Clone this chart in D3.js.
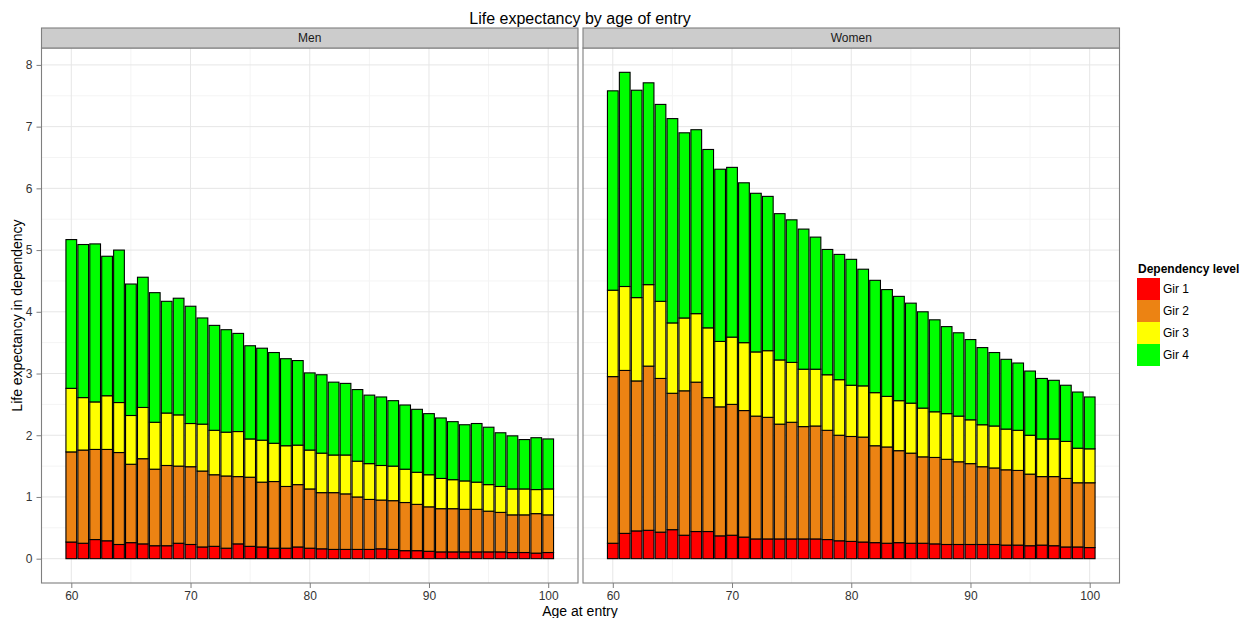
<!DOCTYPE html>
<html>
<head>
<meta charset="utf-8">
<script src="https://cdn.jsdelivr.net/npm/d3@7/dist/d3.min.js"></script>
<style>
body { margin: 0; background: #fff; }
text { font-family: "Liberation Sans", Arial, sans-serif; }
</style>
</head>
<body>
<div id="chart"></div>
<script>
// ages at entry (x categories)
const ages = [60, 61, 62, 63, 64, 65, 66, 67, 68, 69, 70, 71, 72, 73, 74, 75, 76, 77, 78, 79, 80,
    81, 82, 83, 84, 85, 86, 87, 88, 89, 90, 91, 92, 93, 94, 95, 96, 97, 98, 99, 100];

const levels = ["Gir 1", "Gir 2", "Gir 3", "Gir 4"];
const levelColors = ["#ff0000", "#ec8313", "#ffff00", "#00ff00"];
const panelNames = ["Men", "Women"];

// years spent in each dependency level, men
const menGir1 = [0.27, 0.25, 0.31, 0.29, 0.23, 0.26, 0.24, 0.21, 0.21, 0.25, 0.23, 0.19, 0.20, 0.17, 0.24, 0.20, 0.19, 0.17, 0.17, 0.19, 0.17,
    0.16, 0.15, 0.15, 0.15, 0.15, 0.16, 0.15, 0.13, 0.13, 0.12, 0.11, 0.11, 0.11, 0.11, 0.11, 0.11, 0.10, 0.10, 0.09, 0.10];
const menGir2 = [1.46, 1.51, 1.46, 1.48, 1.49, 1.27, 1.38, 1.24, 1.30, 1.25, 1.26, 1.23, 1.16, 1.17, 1.09, 1.12, 1.05, 1.08, 1.00, 1.01, 0.96,
    0.91, 0.92, 0.90, 0.85, 0.81, 0.79, 0.79, 0.78, 0.75, 0.72, 0.70, 0.70, 0.69, 0.69, 0.66, 0.64, 0.61, 0.61, 0.64, 0.61];
const menGir3 = [1.03, 0.85, 0.77, 0.87, 0.81, 0.79, 0.83, 0.76, 0.85, 0.83, 0.70, 0.76, 0.72, 0.71, 0.73, 0.62, 0.68, 0.62, 0.66, 0.64, 0.63,
    0.64, 0.61, 0.63, 0.58, 0.58, 0.56, 0.56, 0.54, 0.52, 0.52, 0.49, 0.47, 0.46, 0.44, 0.43, 0.42, 0.42, 0.42, 0.39, 0.42];
const menGir4 = [2.41, 2.48, 2.56, 2.26, 2.47, 2.13, 2.11, 2.10, 1.81, 1.89, 1.90, 1.72, 1.70, 1.66, 1.59, 1.51, 1.49, 1.47, 1.41, 1.37, 1.25,
    1.27, 1.18, 1.16, 1.16, 1.11, 1.11, 1.06, 1.04, 1.02, 0.99, 0.98, 0.94, 0.91, 0.95, 0.93, 0.87, 0.86, 0.80, 0.84, 0.81];

// women
const womenGir1 = [0.25, 0.41, 0.45, 0.46, 0.43, 0.47, 0.38, 0.44, 0.44, 0.37, 0.38, 0.35, 0.32, 0.32, 0.32, 0.32, 0.32, 0.32, 0.31, 0.29, 0.28,
    0.27, 0.26, 0.25, 0.26, 0.25, 0.25, 0.24, 0.23, 0.23, 0.23, 0.23, 0.23, 0.22, 0.22, 0.21, 0.22, 0.21, 0.19, 0.19, 0.18];
const womenGir2 = [2.70, 2.64, 2.43, 2.66, 2.49, 2.21, 2.34, 2.42, 2.17, 2.09, 2.12, 2.05, 1.99, 1.97, 1.86, 1.89, 1.82, 1.83, 1.77, 1.71, 1.70,
    1.70, 1.57, 1.56, 1.49, 1.46, 1.40, 1.40, 1.38, 1.34, 1.31, 1.26, 1.24, 1.22, 1.21, 1.16, 1.11, 1.12, 1.11, 1.04, 1.05];
const womenGir3 = [1.40, 1.36, 1.35, 1.32, 1.25, 1.14, 1.18, 1.11, 1.13, 1.06, 1.09, 1.10, 1.04, 1.08, 1.04, 0.97, 0.93, 0.92, 0.90, 0.90, 0.83,
    0.83, 0.86, 0.82, 0.81, 0.81, 0.79, 0.74, 0.74, 0.74, 0.71, 0.68, 0.68, 0.66, 0.65, 0.63, 0.61, 0.61, 0.60, 0.56, 0.55];
const womenGir4 = [3.23, 3.47, 3.36, 3.27, 3.19, 3.31, 3.00, 2.98, 2.89, 2.79, 2.75, 2.59, 2.57, 2.50, 2.37, 2.31, 2.27, 2.14, 2.03, 2.03, 2.04,
    1.89, 1.82, 1.73, 1.69, 1.62, 1.56, 1.49, 1.41, 1.35, 1.30, 1.25, 1.19, 1.13, 1.09, 1.04, 0.98, 0.95, 0.91, 0.91, 0.84];

const xTicks = [60, 70, 80, 90, 100];
const xMinor = [65, 75, 85, 95];
const yTicks = [0, 1, 2, 3, 4, 5, 6, 7, 8];
const yMinor = [0.5, 1.5, 2.5, 3.5, 4.5, 5.5, 6.5, 7.5];

let width = 1247, height = 618;
let plotTop = 48, plotBottom = 583;
let panelX = [[41.5, 578], [583, 1119.5]];

let svg = d3.select("#chart")
    .append("svg")
    .attr("width", width)
    .attr("height", height);

//build rows for each panel
function makeRows(series) {
    return ages.map((a, i) => {
        let row = { age: a };
        levels.forEach((l, j) => { row[l] = series[j][i]; });
        return row;
    });
}
let panelData = [
    makeRows([menGir1, menGir2, menGir3, menGir4]),
    makeRows([womenGir1, womenGir2, womenGir3, womenGir4])
];
let stack = d3.stack().keys(levels);
let stacked = panelData.map(rows => stack(rows));

let yMax = d3.max(stacked, s => d3.max(s[s.length - 1], d => d[1]));
let y = d3.scaleLinear().domain([-0.05 * yMax, 1.05 * yMax]).range([plotBottom, plotTop]);
let color = d3.scaleOrdinal().domain(levels).range(levelColors);

// title
svg.append("text")
    .attr("x", 580).attr("y", 24)
    .attr("text-anchor", "middle")
    .style("font-size", "16px")
    .text("Life expectancy by age of entry");

panelNames.forEach((name, p) => {
    let [x0, x1] = panelX[p];
    let x = d3.scaleLinear().domain([57.5, 102.5]).range([x0, x1]);
    let g = svg.append("g");

    // grid
    g.selectAll(".minor-y").data(yMinor).enter().append("line")
        .attr("x1", x0).attr("x2", x1).attr("y1", d => y(d)).attr("y2", d => y(d))
        .attr("stroke", "#f4f4f4").attr("stroke-width", 1);
    g.selectAll(".minor-x").data(xMinor).enter().append("line")
        .attr("x1", d => x(d)).attr("x2", d => x(d)).attr("y1", plotTop).attr("y2", plotBottom)
        .attr("stroke", "#f4f4f4").attr("stroke-width", 1);
    g.selectAll(".major-y").data(yTicks).enter().append("line")
        .attr("x1", x0).attr("x2", x1).attr("y1", d => y(d)).attr("y2", d => y(d))
        .attr("stroke", "#e6e6e6").attr("stroke-width", 1);
    g.selectAll(".major-x").data(xTicks).enter().append("line")
        .attr("x1", d => x(d)).attr("x2", d => x(d)).attr("y1", plotTop).attr("y2", plotBottom)
        .attr("stroke", "#e6e6e6").attr("stroke-width", 1);

    // bars
    g.selectAll(".layer")
        .data(stacked[p])
        .enter()
        .append("g")
        .attr("fill", d => color(d.key))
        .selectAll("rect")
        .data(d => d)
        .enter()
        .append("rect")
        .attr("x", d => x(d.data.age - 0.45))
        .attr("width", d => x(d.data.age + 0.45) - x(d.data.age - 0.45))
        .attr("y", d => y(d[1]))
        .attr("height", d => y(d[0]) - y(d[1]))
        .attr("stroke", "#000")
        .attr("stroke-width", 1.1);

    // panel border
    g.append("rect").attr("x", x0).attr("y", plotTop).attr("width", x1 - x0).attr("height", plotBottom - plotTop)
        .attr("fill", "none").attr("stroke", "#7f7f7f").attr("stroke-width", 1.1);

    // strip
    g.append("rect").attr("x", x0).attr("y", 28).attr("width", x1 - x0).attr("height", plotTop - 28)
        .attr("fill", "#cccccc").attr("stroke", "#7f7f7f").attr("stroke-width", 1.1);
    g.append("text")
        .attr("x", (x0 + x1) / 2).attr("y", 42)
        .attr("text-anchor", "middle")
        .style("font-size", "12px")
        .attr("fill", "#1a1a1a")
        .text(name);

    // x axis
    let xa = g.append("g")
        .attr("transform", "translate(0," + plotBottom + ")")
        .call(d3.axisBottom(x).tickValues(xTicks).tickSize(5).tickPadding(3).tickFormat(d3.format("d")));
    xa.select(".domain").remove();
    xa.selectAll("line").attr("stroke", "#7f7f7f");
    xa.selectAll("text").style("font-size", "12px").attr("fill", "#333").style("font-family", "Liberation Sans, Arial, sans-serif");

    if (p == 0) {
        let ya = g.append("g")
            .attr("transform", "translate(" + x0 + ",0)")
            .call(d3.axisLeft(y).tickValues(yTicks).tickSize(5).tickPadding(4));
        ya.select(".domain").remove();
        ya.selectAll("line").attr("stroke", "#7f7f7f");
        ya.selectAll("text").style("font-size", "12px").attr("fill", "#333").style("font-family", "Liberation Sans, Arial, sans-serif");
    }
});

// axis titles
svg.append("text")
    .attr("x", 580).attr("y", 616)
    .attr("text-anchor", "middle")
    .style("font-size", "14px")
    .text("Age at entry");

svg.append("text")
    .attr("transform", "translate(22," + ((plotTop + plotBottom) / 2) + ") rotate(-90)")
    .attr("text-anchor", "middle")
    .style("font-size", "14px")
    .text("Life expectancy in dependency");

// legend
let legend = svg.append("g").attr("transform", "translate(1137,0)");
legend.append("text")
    .attr("x", 1).attr("y", 273)
    .style("font-size", "12px")
    .style("font-weight", "bold")
    .text("Dependency level");
legend.selectAll(".key")
    .data(levels)
    .enter()
    .append("rect")
    .attr("x", 0)
    .attr("y", (d, i) => 278 + i * 22)
    .attr("width", 23)
    .attr("height", 22)
    .attr("fill", d => color(d));
legend.selectAll(".label")
    .data(levels)
    .enter()
    .append("text")
    .attr("x", 26)
    .attr("y", (d, i) => 278 + i * 22 + 15)
    .style("font-size", "12px")
    .text(d => d);
</script>
</body>
</html>
